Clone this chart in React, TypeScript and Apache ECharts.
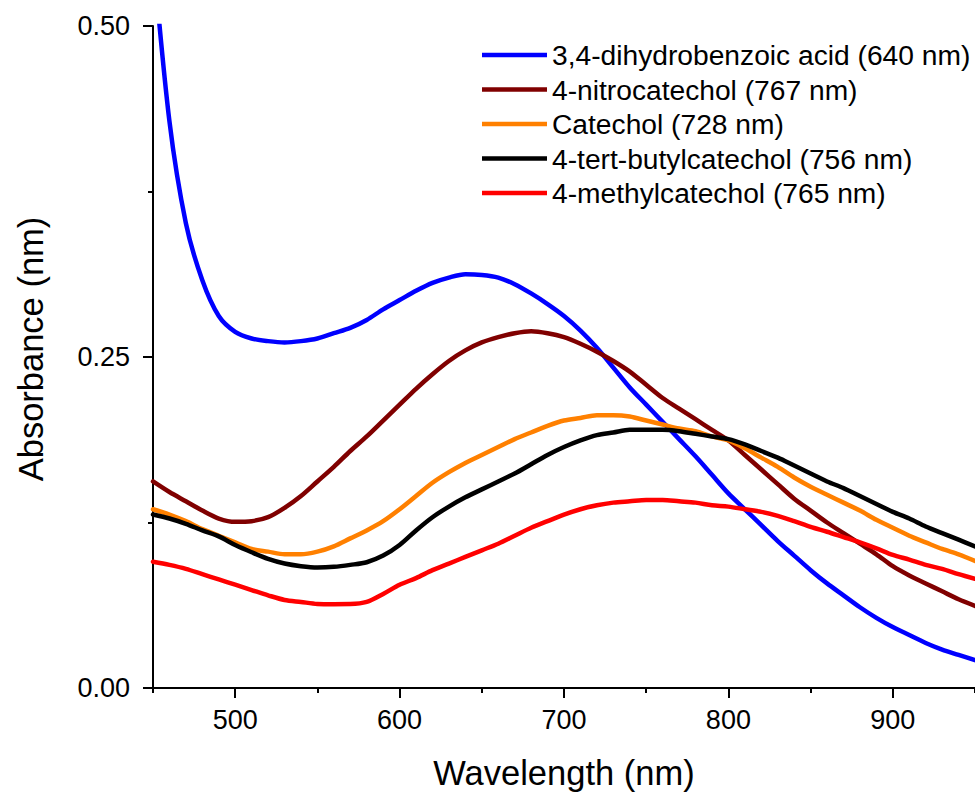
import React, { useEffect, useRef } from "react";
import * as echarts from "echarts";

const wavelengths = [
  450, 460, 470, 480, 490, 500, 510, 520, 530, 540, 550, 560, 570, 580, 590,
  600, 610, 620, 630, 640, 650, 660, 670, 680, 690, 700, 710, 720, 730, 740,
  750, 760, 770, 780, 790, 800, 810, 820, 830, 840, 850, 860, 870, 880, 890,
  900, 910, 920, 930, 940, 950,
];

const dihydrobenzoic = [
  0.555, 0.428, 0.351, 0.308, 0.281, 0.269, 0.264, 0.262, 0.261, 0.262, 0.264,
  0.268, 0.272, 0.278, 0.286, 0.293, 0.3, 0.306, 0.31, 0.3125, 0.312, 0.31,
  0.305, 0.298, 0.29, 0.281, 0.27, 0.257, 0.242, 0.227, 0.214, 0.201, 0.188,
  0.175, 0.161, 0.147, 0.135, 0.123, 0.111, 0.1, 0.089, 0.079, 0.07, 0.061,
  0.053, 0.046, 0.04, 0.034, 0.029, 0.025, 0.021,
];

const nitrocatechol = [
  0.156, 0.148, 0.141, 0.134, 0.128, 0.1255, 0.126, 0.129, 0.136, 0.145, 0.156,
  0.167, 0.179, 0.19, 0.202, 0.214, 0.226, 0.237, 0.247, 0.255, 0.261, 0.265,
  0.268, 0.2695, 0.268, 0.265, 0.26, 0.254, 0.247, 0.239, 0.229, 0.219, 0.211,
  0.203, 0.195, 0.187, 0.176, 0.165, 0.154, 0.143, 0.134, 0.125, 0.117, 0.109,
  0.101, 0.092, 0.085, 0.079, 0.073, 0.067, 0.062,
];

const catechol = [
  0.135, 0.131, 0.126, 0.12, 0.115, 0.11, 0.105, 0.103, 0.101, 0.101, 0.103,
  0.107, 0.113, 0.119, 0.126, 0.135, 0.145, 0.155, 0.163, 0.17, 0.176, 0.182,
  0.188, 0.193, 0.198, 0.202, 0.204, 0.206, 0.206, 0.205, 0.202, 0.199, 0.196,
  0.194, 0.19, 0.187, 0.181, 0.174, 0.167, 0.159, 0.152, 0.146, 0.14, 0.134,
  0.127, 0.121, 0.115, 0.11, 0.105, 0.101, 0.096,
];

const tertButylcatechol = [
  0.131, 0.128, 0.124, 0.119, 0.1145, 0.108, 0.1025, 0.0975, 0.094, 0.092,
  0.091, 0.0915, 0.093, 0.095, 0.1, 0.108, 0.119, 0.129, 0.137, 0.144, 0.15,
  0.156, 0.162, 0.169, 0.176, 0.182, 0.187, 0.191, 0.193, 0.195, 0.195, 0.195,
  0.194, 0.192, 0.19, 0.188, 0.184, 0.179, 0.174, 0.168, 0.162, 0.156, 0.151,
  0.145, 0.139, 0.133, 0.128, 0.122, 0.117, 0.112, 0.107,
];

const methylcatechol = [
  0.0954, 0.093, 0.09, 0.086, 0.082, 0.078, 0.074, 0.07, 0.0665, 0.065, 0.0635,
  0.0633, 0.0634, 0.065, 0.071, 0.078, 0.083, 0.089, 0.094, 0.099, 0.104, 0.109,
  0.115, 0.121, 0.126, 0.131, 0.135, 0.138, 0.14, 0.141, 0.142, 0.142, 0.141,
  0.14, 0.138, 0.137, 0.135, 0.133, 0.13, 0.126, 0.1217, 0.118, 0.114, 0.11,
  0.1055, 0.1005, 0.097, 0.093, 0.09, 0.086, 0.0825,
];

const seriesNames = [
  "3,4-dihydrobenzoic acid (640 nm)",
  "4-nitrocatechol (767 nm)",
  "Catechol (728 nm)",
  "4-tert-butylcatechol (756 nm)",
  "4-methylcatechol (765 nm)",
];
const seriesColors = ["#0000FF", "#800000", "#FF8000", "#000000", "#FF0000"];
const seriesValues = [
  dihydrobenzoic,
  nitrocatechol,
  catechol,
  tertButylcatechol,
  methylcatechol,
];

const xMajorTicks = [500, 600, 700, 800, 900];
const xMinorTicks = [450, 550, 650, 750, 850, 950];
const xTitle = "Wavelength (nm)";
const yTitle = "Absorbance (nm)";

const FONT = '"Liberation Sans", Arial, Helvetica, sans-serif';

export default function App() {
  const ref = useRef<HTMLDivElement>(null);

  useEffect(() => {
    if (!ref.current) return;
    const chart = echarts.init(ref.current, undefined, { renderer: "svg" });
    const grid = { left: 153, right: 0, top: 26, bottom: 106, containLabel: false };
    const axisLineStyle = { color: "#000", width: 2 };

    chart.setOption({
      animation: false,
      backgroundColor: "#fff",
      textStyle: { fontFamily: FONT },
      grid,
      legend: {
        orient: "vertical",
        left: 482,
        top: 41,
        padding: 0,
        itemWidth: 65,
        itemHeight: 4.5,
        itemGap: 6.5,
        icon: "rect",
        data: seriesNames,
        textStyle: {
          fontFamily: FONT,
          fontSize: 28.2,
          lineHeight: 28,
          color: "#000",
        },
      },
      xAxis: [
        {
          type: "value",
          min: 450,
          max: 950,
          interval: 50,
          axisLine: { show: true, lineStyle: axisLineStyle },
          axisTick: {
            show: true,
            length: 10,
            customValues: xMajorTicks,
            lineStyle: { color: "#000", width: 2 },
          },
          axisLabel: {
            customValues: xMajorTicks,
            fontSize: 27,
            fontFamily: FONT,
            color: "#000",
            margin: 18,
          },
          splitLine: { show: false },
        },
        {
          type: "value",
          min: 450,
          max: 950,
          interval: 50,
          position: "bottom",
          axisLine: { show: false },
          axisTick: {
            show: true,
            length: 5,
            customValues: xMinorTicks,
            lineStyle: { color: "#000", width: 2 },
          },
          axisLabel: { show: false },
          splitLine: { show: false },
        },
      ],
      yAxis: {
        type: "value",
        min: 0,
        max: 0.5,
        interval: 0.25,
        axisLine: { show: true, lineStyle: axisLineStyle },
        axisTick: { show: true, length: 10, lineStyle: { color: "#000", width: 2 } },
        minorTick: {
          show: true,
          splitNumber: 2,
          length: 5,
          lineStyle: { color: "#000", width: 2 },
        },
        axisLabel: {
          fontSize: 27,
          fontFamily: FONT,
          color: "#000",
          margin: 23,
          formatter: (v: number) => v.toFixed(2),
        },
        splitLine: { show: false },
        minorSplitLine: { show: false },
      },
      graphic: [
        {
          type: "text",
          x: 564,
          y: 773,
          style: {
            text: xTitle,
            fontSize: 34.5,
            fontFamily: FONT,
            fill: "#000",
            textAlign: "center",
            textVerticalAlign: "middle",
          },
        },
        {
          type: "text",
          x: 31,
          y: 349,
          rotation: Math.PI / 2,
          style: {
            text: yTitle,
            fontSize: 34.5,
            fontFamily: FONT,
            fill: "#000",
            textAlign: "center",
            textVerticalAlign: "middle",
          },
        },
      ],
      series: seriesNames.map((name, i) => ({
        name,
        type: "line",
        xAxisIndex: 0,
        yAxisIndex: 0,
        data: wavelengths.map((w, j) => [w, seriesValues[i][j]]),
        showSymbol: false,
        symbol: "none",
        smooth: 0.3,
        clip: true,
        itemStyle: { color: seriesColors[i] },
        lineStyle: {
          color: seriesColors[i],
          width: 4.5,
          cap: "round",
          join: "round",
        },
        z: 2 + i,
      })),
    });

    return () => {
      chart.dispose();
    };
  }, []);

  return (
    <div
      ref={ref}
      style={{ position: "absolute", left: 0, top: 0, width: 975, height: 794 }}
    />
  );
}
